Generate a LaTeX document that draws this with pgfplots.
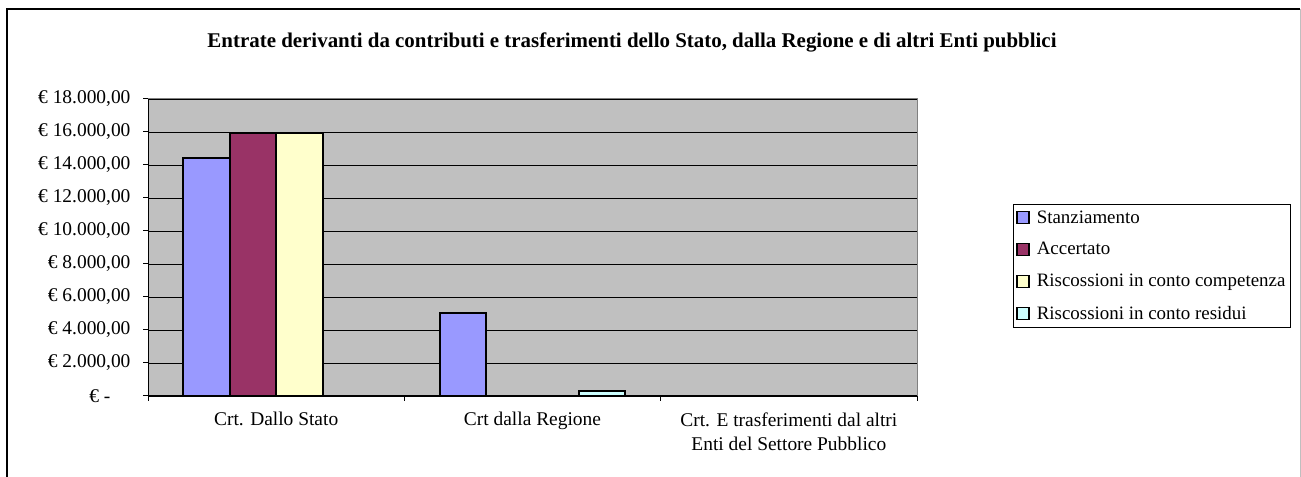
\documentclass[border=0pt]{standalone}
\usepackage{pgfplots}
\pgfplotsset{compat=1.18}
\usepackage{fontspec}
\setmainfont{Liberation Serif}
\definecolor{cStanz}{HTML}{9999FF}
\definecolor{cAcc}{HTML}{993366}
\definecolor{cComp}{HTML}{FFFFCC}
\definecolor{cRes}{HTML}{CCFFFF}
\definecolor{cBg}{HTML}{C0C0C0}
\newcommand{\tickfont}{\fontsize{19.5}{24}\selectfont}
\newcommand{\legfont}{\fontsize{19}{22}\selectfont}
\begin{document}
\begin{tikzpicture}[x=1bp,y=1bp]
\path[use as bounding box] (0,0) rectangle (1301,477);
\draw[black, line width=1.5bp] (7,0) -- (7,468) -- (1300,468);
\draw[black!25, line width=1bp] (1300,468) -- (1300,0);
\node[font=\bfseries\fontsize{21}{25}\selectfont] at (632,435) {Entrate derivanti da contributi e trasferimenti dello Stato, dalla Regione e di altri Enti pubblici};
\begin{axis}[
  at={(148bp,81bp)}, anchor=south west,
  scale only axis, width=769bp, height=297bp,
  xmin=-0.5, xmax=2.5, ymin=0, ymax=18000,
  scaled y ticks=false,
  ybar=0pt, bar width=46.4bp,
  axis x line*=bottom, axis y line*=left,
  axis line style={-, black, line width=1bp},
  axis background/.style={fill=cBg, draw=black!50, line width=1bp},
  tick align=outside,
  major tick length=5bp, minor tick length=5bp,
  xtick={0,1,2},
  xticklabels={Crt. Dallo Stato, Crt dalla Regione, {Crt. E trasferimenti dal altri\\Enti del Settore Pubblico}},
  minor xtick={-0.5,0.5,1.5,2.5},
  major x tick style={draw=none},
  minor x tick style={black, line width=1bp},
  y tick style={black, line width=1bp},
  xticklabel style={font=\tickfont, align=center, yshift=-8bp},
  ytick={0,2000,...,18000},
  yticklabels={{€ -\kern20bp},{€ 2.000,00},{€ 4.000,00},{€ 6.000,00},{€ 8.000,00},{€ 10.000,00},{€ 12.000,00},{€ 14.000,00},{€ 16.000,00},{€ 18.000,00}},
  yticklabel style={font=\tickfont, xshift=-9bp},
  ymajorgrids,
  major grid style={black, line width=0.9bp},
  legend style={at={(1.1248,0.6465)}, anchor=north west, draw=black, line width=1bp, fill=white,
    font=\legfont, row sep=14bp, column sep=5bp, inner xsep=3bp, inner ysep=4bp, cells={anchor=west}},
  legend cell align=left,
  legend image code/.code={\draw[#1, draw=black, line width=1.3bp] (0bp,-6bp) rectangle (12bp,6bp);},
]
\addplot[draw=black, line width=2bp, fill=cStanz] coordinates {(0,14450) (1,5030)};
\addplot[draw=black, line width=2bp, fill=cAcc] coordinates {(0,15960)};
\addplot[draw=black, line width=2bp, fill=cComp] coordinates {(0,15960)};
\addplot[draw=black, line width=2bp, fill=cRes] coordinates {(1,300)};
\legend{Stanziamento, Accertato, Riscossioni in conto competenza, Riscossioni in conto residui}
\end{axis}
\end{tikzpicture}
\end{document}
